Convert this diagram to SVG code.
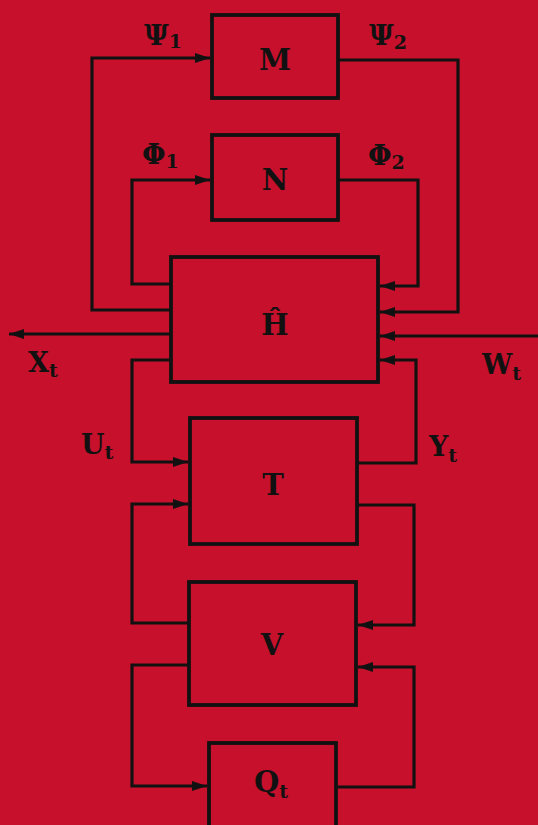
<svg xmlns="http://www.w3.org/2000/svg" width="538" height="825" viewBox="0 0 538 825">
<defs>
<style>
.box{fill:none;stroke:#111;stroke-width:3.8}
.wire{fill:none;stroke:#111;stroke-width:3.2;stroke-linejoin:miter}
.lbl{font-family:"DejaVu Serif","Liberation Serif",serif;font-weight:bold;fill:#111}
.big{font-size:29px}
.mid{font-size:27px}
.sub{font-size:19px}
</style>
<marker id="ah" markerUnits="userSpaceOnUse" markerWidth="16" markerHeight="12" refX="15" refY="6" orient="auto">
<path d="M0,1 L15,6 L0,11 z" fill="#111"/>
</marker>
</defs>
<rect x="0" y="0" width="538" height="825" fill="#c7102c"/>
<g id="connectors">
<path class="wire" d="M171,310 H92 V58 H210" marker-end="url(#ah)"/>
<path class="wire" d="M171,284 H132 V180 H210" marker-end="url(#ah)"/>
<path class="wire" d="M338,60 H458 V312 H380" marker-end="url(#ah)"/>
<path class="wire" d="M338,180 H418 V286 H380" marker-end="url(#ah)"/>
<path class="wire" d="M171,334 H9" marker-end="url(#ah)"/>
<path class="wire" d="M538,336 H380" marker-end="url(#ah)"/>
<path class="wire" d="M171,360 H132 V462 H188" marker-end="url(#ah)"/>
<path class="wire" d="M357,463 H416 V360 H380" marker-end="url(#ah)"/>
<path class="wire" d="M189,623 H132 V504 H188" marker-end="url(#ah)"/>
<path class="wire" d="M357,505 H414 V625 H358" marker-end="url(#ah)"/>
<path class="wire" d="M189,665 H132 V786 H207" marker-end="url(#ah)"/>
<path class="wire" d="M336,787 H414 V667 H358" marker-end="url(#ah)"/>
</g>
<g id="M"><rect class="box" x="212" y="15" width="126" height="83"/><text class="lbl big" x="275" y="70" text-anchor="middle">M</text></g>
<g id="N"><rect class="box" x="212" y="135" width="126" height="85"/><text class="lbl big" x="275" y="190" text-anchor="middle">N</text></g>
<g id="H"><rect class="box" x="171" y="257" width="207" height="125"/><text class="lbl big" x="275" y="335" text-anchor="middle">Ĥ</text></g>
<g id="T"><rect class="box" x="190" y="418" width="167" height="126"/><text class="lbl big" x="273" y="495" text-anchor="middle">T</text></g>
<g id="V"><rect class="box" x="189" y="582" width="167" height="123"/><text class="lbl big" x="272" y="655" text-anchor="middle">V</text></g>
<g id="Q"><rect class="box" x="209" y="743" width="127" height="90"/><text class="lbl big" x="254" y="792">Q<tspan class="sub" dy="6">t</tspan></text></g>
<g id="labels">
<text class="lbl mid" x="144" y="45">Ψ<tspan class="sub" dy="3">1</tspan></text>
<text class="lbl mid" x="369" y="45">Ψ<tspan class="sub" dy="4">2</tspan></text>
<text class="lbl mid" x="142" y="164">Φ<tspan class="sub" dy="4">1</tspan></text>
<text class="lbl mid" x="368" y="165">Φ<tspan class="sub" dy="4">2</tspan></text>
<text class="lbl mid" x="81" y="454">U<tspan class="sub" dy="5">t</tspan></text>
<text class="lbl mid" x="429" y="456">Y<tspan class="sub" dy="6">t</tspan></text>
<text class="lbl mid" x="28" y="372">X<tspan class="sub" dy="5">t</tspan></text>
<text class="lbl mid" x="482" y="374">W<tspan class="sub" dy="6">t</tspan></text>
</g>
</svg>
